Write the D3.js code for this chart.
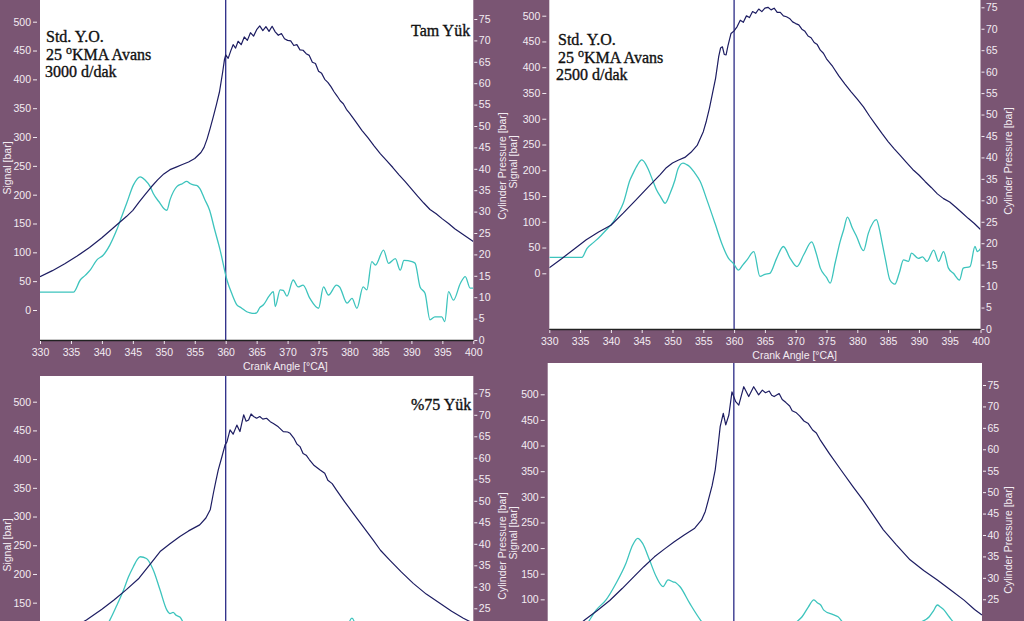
<!DOCTYPE html>
<html><head><meta charset="utf-8">
<script src="https://cdn.jsdelivr.net/npm/d3@7"></script>
<style>
html,body{margin:0;padding:0;background:#7a5573;}
svg{display:block;}
</style></head>
<body>
<svg id="chart" width="1024" height="621"></svg>
<script>
// ---------------- DATA ----------------
const xTicks = [330,335,340,345,350,355,360,365,370,375,380,385,390,395,400];
const leftTicks = [0,50,100,150,200,250,300,350,400,450,500];
const rightTicks = [0,5,10,15,20,25,30,35,40,45,50,55,60,65,70,75];

// Panel 1: Tam Yük, 3000 d/dak
const p1PressA = [330,332,334,336,338,340,342,344,345,346,347,348,349,350,351,352,353,354,355,356,356.5,357,357.5,358,358.5,359,359.5,359.8,360,360.4,360.8,361.2,361.6,362,362.5,363,363.5,364,364.5,365,365.5,366,366.5,367,367.5,368,368.5,369,369.5,370,370.5,371,371.5,372,372.5,373,373.5,374,374.5,375,375.5,376,376.5,377,377.5,378,378.5,379,379.5,380,381,382,383,384,385,386,387,388,389,390,391,392,393,394,395,396,397,398,399,400];
const p1PressV = [14.8,16.2,17.8,19.6,21.6,23.9,26.4,28.9,30.3,32.2,34.0,35.8,37.4,38.8,39.8,40.4,41.0,41.6,42.4,43.8,45.0,47.0,49.5,52.2,55.0,58.0,62.5,65.5,66.6,65.8,67.5,69.0,68.2,69.8,69.0,70.8,70.0,71.8,71.0,72.5,73.4,72.3,73.2,72.1,73.3,72.0,71.2,71.6,70.4,70.0,69.9,68.8,69.0,67.8,67.7,66.9,66.5,64.9,64.6,62.8,62.3,60.9,60.2,59.2,58.0,57.0,55.9,55.2,53.9,53.0,51.0,49.0,47.2,45.3,43.5,41.9,40.3,38.6,37.0,35.3,33.6,32.0,30.5,29.5,28.3,27.2,26.0,25.0,24.0,23.0];
const p1SigA = [330,335.4,336.5,337.3,338.1,339.2,340.2,341.3,342.4,343.2,344,345.1,346.2,347,347.8,348.3,349.4,350,350.5,351,352.1,353,353.7,354.3,354.8,355.3,355.8,356.6,357.4,358.2,359.1,360.2,361,361.8,362.5,363.4,364,364.5,365,365.5,366.1,367,367.7,368,368.8,369.3,369.9,370.9,371.7,372.5,373.6,375,375.8,376.6,377.9,378.4,379.6,380.4,381.2,382.2,382.8,383.6,384.2,385.5,386.3,387.4,388.2,388.8,390.1,390.6,391.4,392.2,393,393.8,394.9,395.4,396,396.8,397.9,398.7,399.5,400];
const p1SigV = [31,31,52,60,69,87,95,113,139,162,185,217,231,225,214,202,185,176,173,191,214,219,223,219,217,216,211,192,173,140,104,52,28,9,4,-3,-5,-6,-5,4,9,24,32,6,35,34,24,52,40,43,20,3,40,26,43,40,12,20,3,40,35,84,78,104,81,89,69,86,84,81,40,29,-17,-12,-12,-20,32,17,46,58,38,38];

// Panel 2: 2500 d/dak
const p2PressA = [330,332,334,336,338,340,342,344,346,348,349,350,351,352,353,354,355,355.5,356,356.5,357,357.5,357.8,358.1,358.4,358.7,359,359.5,360,360.5,361,361.5,362,362.5,363,363.5,364,364.5,365,365.5,366,366.5,367,367.5,368,368.5,369,369.5,370,370.5,371,371.5,372,372.5,373,373.5,374,374.5,375,376,377,378,379,380,381,382,383,384,385,386,387,388,389,390,391,392,393,394,395,396,397,398,399,400];
const p2PressV = [14.3,16.4,18.6,20.8,22.6,24.2,27.0,30.0,33.0,36.0,37.6,38.7,39.4,40.0,41.2,42.8,46.0,48.5,51.5,55.0,58.5,63.5,65.5,65.8,64.0,63.9,66.0,68.9,69.5,70.5,72.0,71.5,73.0,72.6,74.0,73.6,74.6,74.0,74.8,75.0,74.4,74.8,73.8,73.8,73.0,72.8,72.4,71.6,71.2,70.9,69.9,69.4,68.3,67.9,66.8,66.3,65.0,64.3,63.0,61.2,59.0,57.1,55.3,53.6,51.8,49.6,47.6,45.6,43.7,42.0,40.4,38.8,37.2,35.9,34.4,33.0,31.5,30.4,29.6,28.4,27.1,25.8,24.6,23.2];
const p2SigA = [330,335.3,336.1,337.2,338.2,339.3,340.4,341.2,342,343.1,343.6,344.3,345,345.6,346.1,346.8,347.4,348.1,348.8,349.6,350.4,350.9,351.7,352.3,352.8,353.6,354.5,355.6,356.9,358,359.1,359.9,360.7,361.4,362.1,363.2,364.2,365,365.8,366.9,368,369.1,370.2,371.3,372.6,373.3,374,375,375.6,376.4,377.2,377.8,378.4,379.2,379.9,381,381.8,383.1,383.6,384,384.6,385.3,386.1,386.8,387.5,388.3,388.8,389.9,390.6,391.3,392.4,393.2,394,394.8,395.6,396.6,397.2,398.3,399.1,399.5,400];
const p2SigV = [31,31,48,60,71,85,100,116,136,181,194,210,220,213,201,180,162,148,136,155,181,203,214,211,207,195,178,142,97,58,29,19,6,16,26,42,-6,-2,0,29,52,29,13,36,61,40,10,-8,-19,20,61,85,109,88,71,44,78,104,85,61,25,-13,-21,0,26,23,39,29,32,23,45,23,42,10,0,-13,10,13,52,42,48];

// Panel 3: %75 Yük
const p3PressA = [330,332,334,336,337.5,340,342,344,346,348,349.4,351,352.6,354,355.8,356.8,357.5,358,358.4,358.8,359.4,359.9,360.2,360.7,361.2,361.8,362.3,362.9,363.3,363.7,364.1,364.5,365,365.5,366,366.6,367.2,367.7,368.5,369.3,370,370.4,371,371.5,372,372.5,373,373.5,374.3,375.2,376,376.5,377.2,377.9,379.2,380.6,382.2,383.8,385,386.5,388.4,390.3,392.4,394.6,396.5,398.4,400];
const p3PressV = [15.5,17.3,19.2,21.0,22.3,24.8,27.0,29.4,32.0,35.6,38.2,40.0,41.7,43.0,44.4,46.0,47.9,51.7,54.5,57.2,60.3,63.0,63.7,66.5,65.5,67.6,66.1,70.0,68.5,68.8,70.2,69.6,69.2,69.6,69.0,69.2,68.4,68.0,67.2,66.1,66.0,65.7,64.6,63.2,62.6,61.0,60.6,59.6,58.2,57.2,56.4,54.8,54.0,52.5,49.8,47.1,44.0,40.9,38.5,36.2,33.4,30.8,28.3,26.2,24.3,22.7,21.5];
const p3SigA = [330,335,337,339,341.3,342.4,343.5,344.3,345.1,345.7,346.2,347.2,348.3,349.4,350.5,351,351.5,352,352.6,353.3,354,356,358,360,362,365,370,375,378,379.5,380.4,381.2,383,386,390,395,400];
const p3SigV = [30,30,55,85,120,145,172,195,213,225,230,227,207,172,137,131,133,128,125,112,98,60,30,10,5,15,40,50,80,105,123,105,70,50,60,30,40];

// Panel 4
const p4PressA = [330,332,334,336,338,340,342,343.9,345.5,347.2,348.8,350.4,352,353.7,354.8,355.4,355.9,356.5,357,357.4,357.8,358.3,358.7,359.2,359.7,360.3,360.8,361.6,362.4,363.2,364,364.6,365.1,365.7,366.1,366.5,367.3,367.8,368.4,369,369.4,370,370.6,371.3,372,372.7,373.3,374,375.4,377.3,379.2,380.8,382.4,384.1,386.2,388.4,390.6,392.8,395,397.1,398.8,400];
const p4PressV = [14.0,15.8,17.9,20.2,22.4,24.7,27.5,30.3,32.6,34.9,36.7,38.4,40.0,41.6,43.5,45.5,48.2,51.5,55.2,60.0,65.3,68.4,65.7,68.0,73.4,71.1,70.3,74.6,72.3,74.6,72.7,73.8,73.2,73.6,72.6,72.3,73.0,71.6,70.9,70.1,69.0,68.6,67.8,66.6,66.0,64.5,63.8,62.0,59.0,55.1,51.3,48.2,44.8,41.2,37.7,34.2,31.7,29.5,27.1,24.8,22.6,21.3];
const p4SigA = [330,335,336.5,337.8,339.4,341,342.6,343.7,344.5,345.3,346.4,347.5,348.6,349.4,350.2,350.7,351.3,352.9,354.6,356,358,360,365,368,370,371,372,372.9,373.5,374,374.5,376,376.8,378,385,390,391.5,392.2,392.8,393.3,393.9,394.7,396,400];
const p4SigV = [30,30,55,79,99,131,170,206,219,209,177,144,125,138,134,132,125,92,60,40,20,15,20,40,55,66,85,99,93,89,79,70,66,50,40,55,66,78,89,85,79,66,50,45];

const panels = [
  {press:[p1PressA,p1PressV], sig:[p1SigA,p1SigV]},
  {press:[p2PressA,p2PressV], sig:[p2SigA,p2SigV]},
  {press:[p3PressA,p3PressV], sig:[p3SigA,p3SigV]},
  {press:[p4PressA,p4PressV], sig:[p4SigA,p4SigV]}
];

// ---------------- LAYOUT ----------------
const layout = [
  {x0:40,   x1:473.3, top:0,   axisY:340,   l0:310,   l500:21.7,  r0:340,   r75:19},
  {x0:549.3,x1:980.5, top:0,   axisY:329,   l0:273.3, l500:15.7,  r0:329,   r75:7.3},
  {x0:40,   x1:473.3, top:376, axisY:716,   l0:688.8, l500:401.7, r0:715.8, r75:393.3},
  {x0:547.7,x1:982,   top:363, axisY:706.4, l0:650.6, l500:394.3, r0:706.4, r75:385}
];
const H = 621, VISIBLE = 614;

const PURPLE = "#7a5573";
const TXT = "#f3ecf2";
const NAVY = "#1d1d62";
const CYAN = "#3dc4bd";
const FONT = "'Liberation Sans', Arial, sans-serif";

const svg = d3.select("#chart");
svg.append("rect").attr("width",1024).attr("height",H).attr("fill",PURPLE);
const defs = svg.append("defs");

layout.forEach((L,i)=>{
  svg.append("rect").attr("x",L.x0).attr("y",L.top).attr("width",L.x1-L.x0).attr("height",L.axisY-L.top).attr("fill","#ffffff");
  defs.append("clipPath").attr("id","clip"+i).append("rect")
    .attr("x",L.x0).attr("y",L.top).attr("width",L.x1-L.x0).attr("height",L.axisY-L.top);
});

layout.forEach((L,i)=>{
  const P = panels[i];
  const x = d3.scaleLinear().domain([330,400]).range([L.x0,L.x1]);
  const yL = d3.scaleLinear().domain([0,500]).range([L.l0,L.l500]);
  const yR = d3.scaleLinear().domain([0,75]).range([L.r0,L.r75]);
  const g = svg.append("g");

  // bottom axis (only if on canvas)
  if (L.axisY < H) {
    const xa = d3.axisBottom(x).tickValues(xTicks).tickSize(4).tickPadding(3).tickFormat(d3.format("d"));
    const gx = g.append("g").attr("transform",`translate(0,${L.axisY})`).call(xa);
    gx.select(".domain").attr("stroke","#222").attr("stroke-width",1.5).attr("d",`M${L.x0},0.5H${L.x1}`);
    gx.selectAll(".tick line").attr("stroke",TXT).attr("y1",1);
    gx.selectAll(".tick text").attr("fill",TXT).attr("font-family",FONT).attr("font-size",10.5).attr("dy","0.85em");
    g.append("text").attr("x",L.x0+203).attr("y",L.axisY+29.5).attr("fill",TXT)
      .attr("font-family",FONT).attr("font-size",10.5).text("Crank Angle [°CA]");
  }

  // left axis
  const la = d3.axisLeft(yL).tickValues(leftTicks.filter(v=>yL(v)<VISIBLE)).tickSize(4).tickPadding(2).tickFormat(d3.format("d"));
  const gl = g.append("g").attr("transform",`translate(${L.x0-3},0)`).call(la);
  gl.select(".domain").remove();
  gl.selectAll(".tick line").attr("stroke",TXT);
  gl.selectAll(".tick text").attr("fill",TXT).attr("font-family",FONT).attr("font-size",10.5);

  // right axis
  const ra = d3.axisRight(yR).tickValues(rightTicks.filter(v=>yR(v)<VISIBLE)).tickSize(3).tickPadding(1.5).tickFormat(d3.format("d"));
  const gr = g.append("g").attr("transform",`translate(${L.x1+1},0)`).call(ra);
  gr.select(".domain").remove();
  gr.selectAll(".tick line").attr("stroke",TXT);
  gr.selectAll(".tick text").attr("fill",TXT).attr("font-family",FONT).attr("font-size",10.5);

  // curves
  const cg = g.append("g").attr("clip-path",`url(#clip${i})`);
  cg.append("line").attr("x1",x(360)).attr("x2",x(360)).attr("y1",L.top).attr("y2",L.axisY)
    .attr("stroke","#2b2b86").attr("stroke-width",1.3);
  const sigData = P.sig[0].map((a,k)=>[a,P.sig[1][k]]);
  const prData = P.press[0].map((a,k)=>[a,P.press[1][k]]);
  cg.append("path").attr("d",d3.line().curve(d3.curveMonotoneX).x(d=>x(d[0])).y(d=>yL(d[1]))(sigData))
    .attr("fill","none").attr("stroke",CYAN).attr("stroke-width",1.3).attr("stroke-linejoin","round");
  cg.append("path").attr("d",d3.line().x(d=>x(d[0])).y(d=>yR(d[1]))(prData))
    .attr("fill","none").attr("stroke",NAVY).attr("stroke-width",1.2).attr("stroke-linejoin","round");
});

// rotated axis titles
function vlabel(x,y,txt,rot){
  svg.append("text").attr("transform",`translate(${x},${y}) rotate(${rot})`)
    .attr("text-anchor","middle").attr("fill",TXT).attr("font-family",FONT).attr("font-size",10.5).text(txt);
}
vlabel(10.5,168,"Signal [bar]",-90);
vlabel(505.5,166,"Cylinder Pressure [bar]",-90);
vlabel(516.5,162,"Signal [bar]",-90);
vlabel(1011.5,161,"Cylinder Pressure [bar]",-90);
vlabel(10.5,545,"Signal [bar]",-90);
vlabel(506,546,"Cylinder Pressure [bar]",-90);
vlabel(516.5,533,"Signal [bar]",-90);
vlabel(1011.5,540,"Cylinder Pressure [bar]",-90);

// annotations
const SERIF = "'Liberation Serif','Times New Roman',serif";
function note(x,y,parts){
  const t = svg.append("text").attr("x",x).attr("y",y).attr("fill","#111").attr("font-family",SERIF)
    .attr("font-size",16).attr("stroke","#111").attr("stroke-width",0.35);
  parts.forEach(p=>{
    const s = t.append("tspan").text(p.t);
    if(p.sup) s.attr("font-size",12).attr("dy",-6);
    if(p.down) s.attr("dy",6);
  });
}
note(46,42,[{t:"Std. Y.O."}]);
note(46,60,[{t:"25 "},{t:"o",sup:true},{t:"KMA Avans",down:true}]);
note(45,77,[{t:"3000  d/dak"}]);
note(411,36,[{t:"Tam Yük"}]);
note(558,45,[{t:"Std. Y.O."}]);
note(558,63,[{t:"25 "},{t:"o",sup:true},{t:"KMA Avans",down:true}]);
note(556,80,[{t:"2500  d/dak"}]);
note(411,410,[{t:"%75 Yük"}]);
</script>
</body></html>
